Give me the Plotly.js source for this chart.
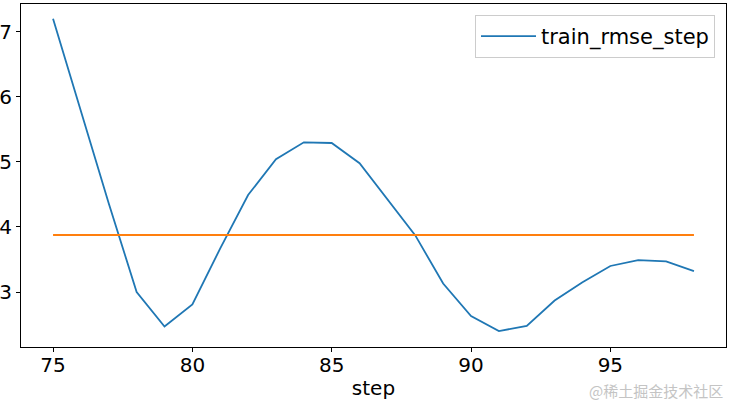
<!DOCTYPE html>
<html>
<head>
<meta charset="utf-8">
<script src="https://cdn.plot.ly/plotly-3.0.1.min.js"></script>
<style>html,body{margin:0;padding:0;background:#fff;}#chart{width:733px;height:404px;}</style>
</head>
<body>
<div id="chart"></div>
<script>
const steps = [75,76,77,78,79,80,81,82,83,84,85,86,87,88,89,90,91,92,93,94,95,96,97,98];
const trainRmse = [7.20,5.78,4.36,3.00,2.47,2.81,3.67,4.49,5.04,5.30,5.29,4.98,4.43,3.87,3.13,2.63,2.40,2.48,2.87,3.15,3.40,3.49,3.47,3.32];
const meanSteps = [75, 98];
const meanRmse = [3.876, 3.876];
const xTicks = [75,80,85,90,95];
const yTicks = [3,4,5,6,7];
const seriesName = "train_rmse_step";
const xTitle = "step";
const watermark = "@稀土掘金技术社区";

const font = "DejaVu Sans, sans-serif";
const traces = [
  {x: steps, y: trainRmse, type: "scatter", mode: "lines", name: seriesName,
   line: {color: "#1f77b4", width: 1.8}},
  {x: meanSteps, y: meanRmse, type: "scatter", mode: "lines", showlegend: false,
   line: {color: "#ff7f0e", width: 1.8}}
];
const layout = {
  width: 733, height: 404,
  margin: {l: 21, r: 7, t: 4, b: 57},
  paper_bgcolor: "#fff", plot_bgcolor: "#fff",
  font: {family: font, size: 20, color: "#000"},
  showlegend: true,
  xaxis: {range: [73.85, 99.15], tickvals: xTicks, ticks: "outside", ticklen: 4, tickcolor: "#000",
          ticklabelstandoff: -4,
          showgrid: false, zeroline: false, showline: true, linecolor: "#000", linewidth: 1, mirror: true,
          tickfont: {family: font, size: 20, color: "#000"},
          title: {text: xTitle, font: {family: font, size: 20, color: "#000"}, standoff: 4}},
  yaxis: {range: [2.155, 7.426], tickvals: yTicks, ticks: "outside", ticklen: 4, tickcolor: "#000",
          showgrid: false, zeroline: false, showline: true, linecolor: "#000", linewidth: 1, mirror: true,
          tickfont: {family: font, size: 20, color: "#000"}},
  legend: {x: 0.9844, xanchor: "right", y: 0.968, yanchor: "top", itemwidth: 55,
           bgcolor: "rgba(255,255,255,0.8)", bordercolor: "#cccccc", borderwidth: 1,
           font: {family: font, size: 21, color: "#000"}},
  annotations: [{text: watermark, xref: "paper", yref: "paper", x: 0.9986, y: -0.128,
                 xanchor: "right", yanchor: "middle", showarrow: false,
                 font: {family: "Noto Sans CJK SC, sans-serif", size: 15, color: "#c4c4c4"}}]
};
Plotly.newPlot("chart", traces, layout, {displayModeBar: false, staticPlot: true});
</script>
</body>
</html>
